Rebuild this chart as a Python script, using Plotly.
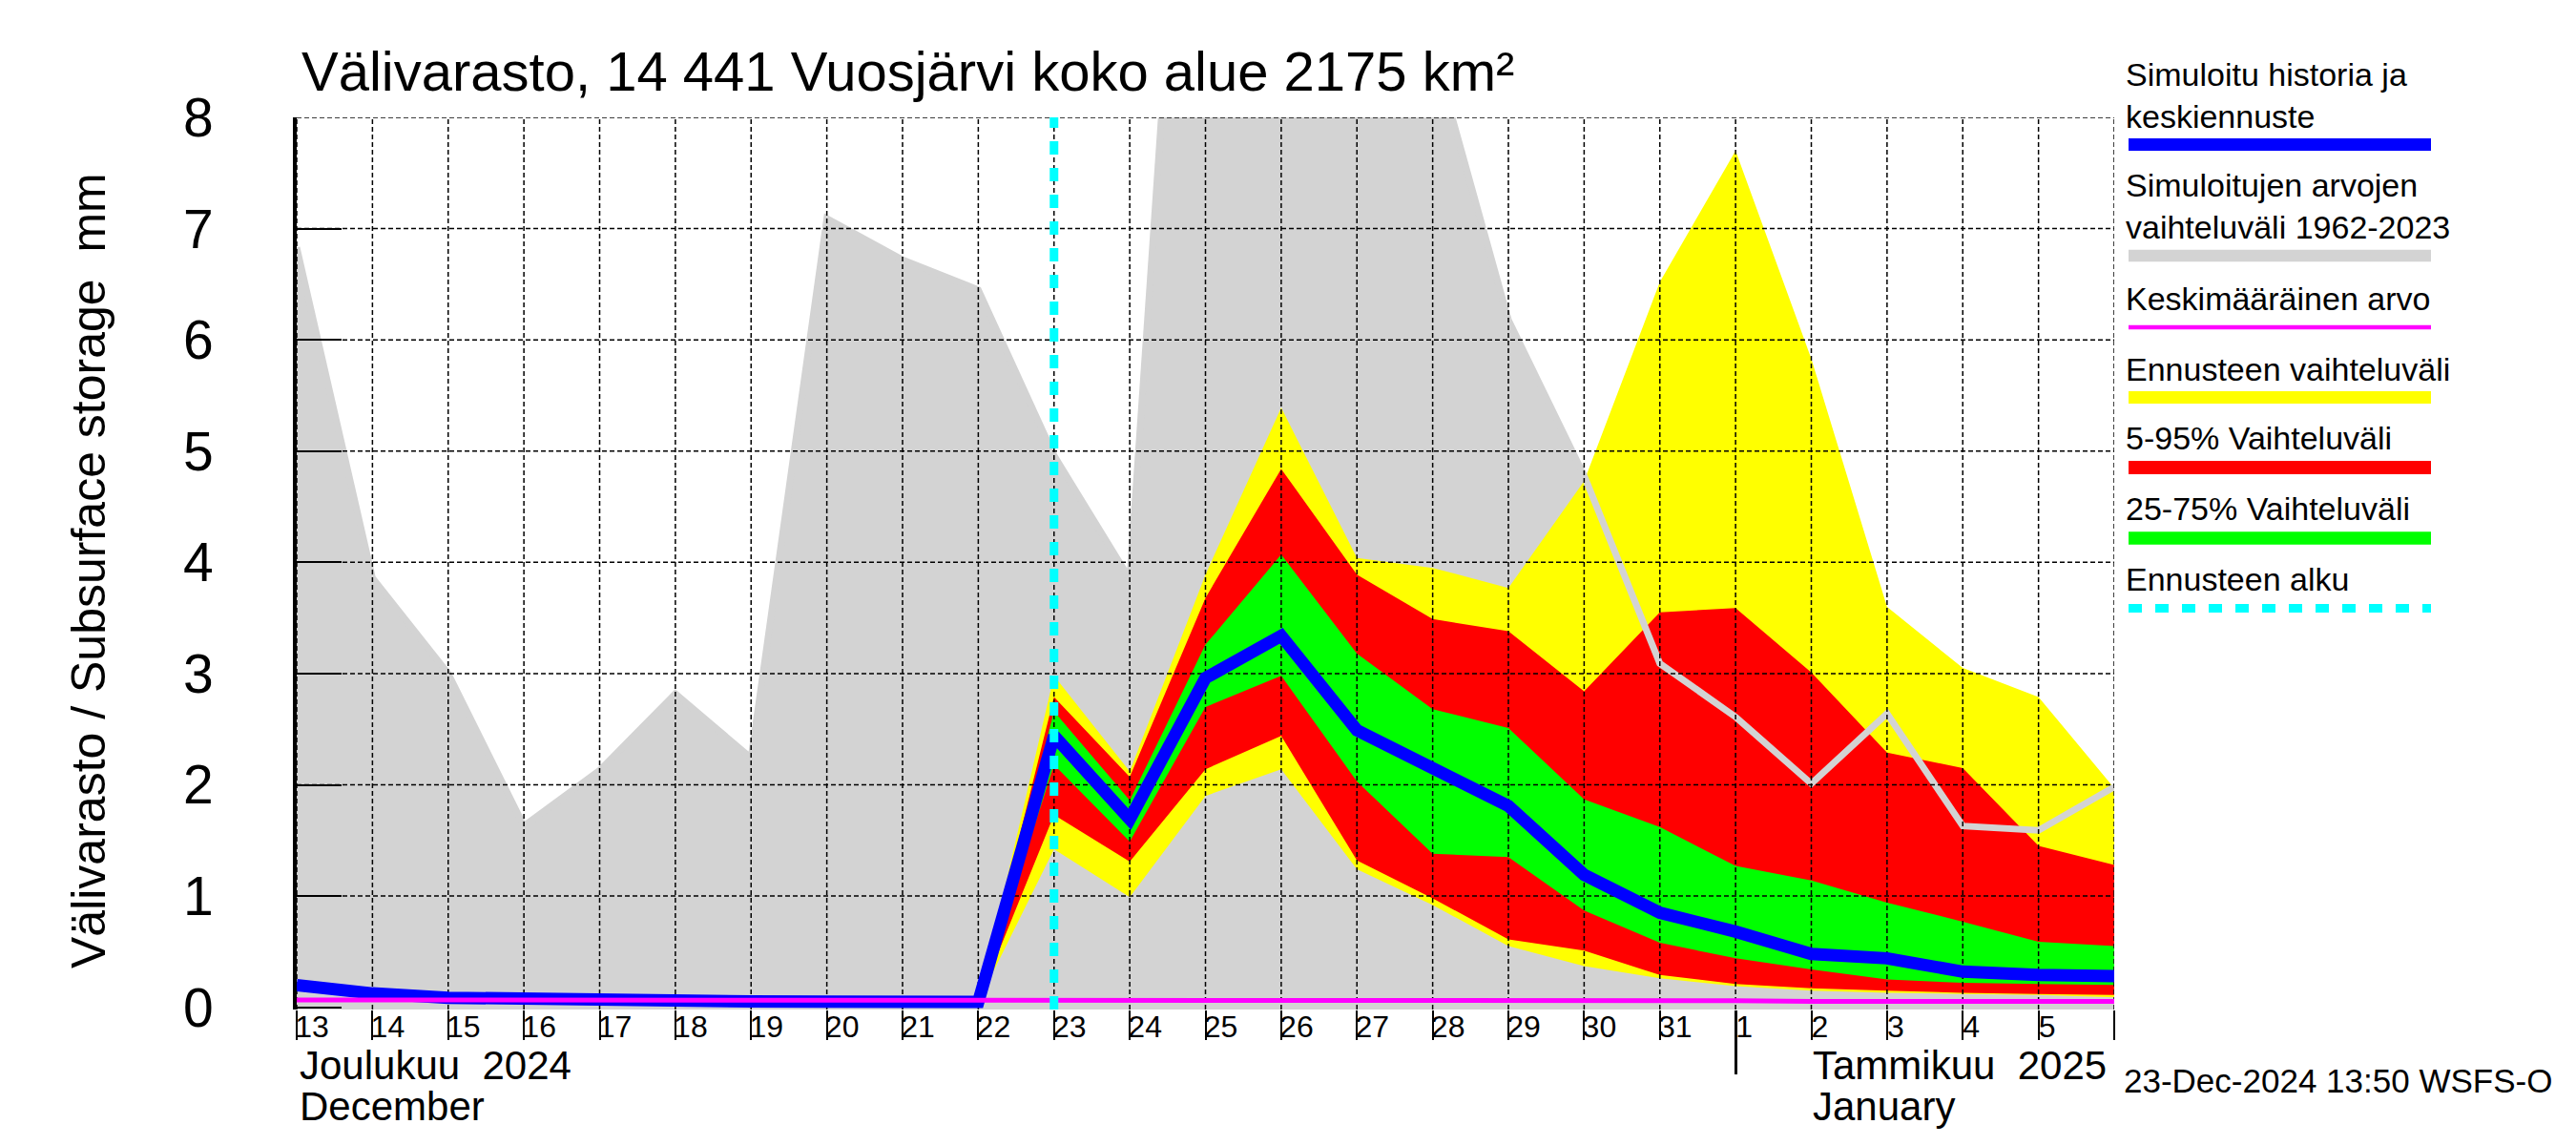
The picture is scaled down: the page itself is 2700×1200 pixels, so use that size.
import pandas as pd
import plotly.graph_objects as go

# ---------------- data ----------------
dates = [d.strftime("%Y-%m-%d") for d in pd.date_range("2024-12-13", "2025-01-06", freq="D")]
fc_dates = dates[9:]            # 2024-12-22 ... 2025-01-06
forecast_start = "2024-12-23"

day_labels_dec = [str(d) for d in range(13, 32)]
day_labels_jan = [str(d) for d in range(1, 6)]
y_ticks = [0, 1, 2, 3, 4, 5, 6, 7, 8]

# simulated range 1962-2023 (grey)
hist_max = [6.83, 3.86, 3.00, 1.63, 2.13, 2.82, 2.24, 7.09, 6.72, 6.45, 4.96, 3.85, 13.8,
            12.0, 10.5, 8.63, 6.18, 4.78, 3.09, 2.61, 2.01, 2.64, 1.63, 1.59, 1.98]
hist_min = [-0.02] * 25
# mean value (magenta)
mean_val = [0.066, 0.066, 0.065, 0.065, 0.065, 0.064, 0.064, 0.064, 0.063, 0.063, 0.063, 0.062,
            0.062, 0.062, 0.061, 0.061, 0.061, 0.060, 0.060, 0.060, 0.053, 0.053, 0.052, 0.052, 0.052]
# simulated history and median forecast (blue)
median = [0.20, 0.125, 0.086, 0.071, 0.064, 0.057, 0.053, 0.051, 0.050, 0.048, 2.44, 1.69, 2.96,
          3.34, 2.49, 2.14, 1.81, 1.19, 0.85, 0.68, 0.48, 0.44, 0.32, 0.29, 0.28]
# forecast ensemble (from 2024-12-22)
ens_max = [0.048, 2.98, 2.12, 3.89, 5.39, 4.04, 3.95, 3.77, 4.73, 6.52, 7.70, 5.83, 3.60, 3.05, 2.79, 1.97]
ens_min = [0.048, 1.42, 0.99, 1.90, 2.14, 1.24, 0.92, 0.55, 0.37, 0.26, 0.19, 0.15, 0.13, 0.12, 0.11, 0.09]
p95 = [0.048, 2.79, 2.07, 3.68, 4.84, 3.89, 3.49, 3.38, 2.84, 3.55, 3.59, 3.01, 2.29, 2.15, 1.45, 1.28]
p05 = [0.048, 1.73, 1.31, 2.14, 2.44, 1.32, 0.98, 0.61, 0.51, 0.29, 0.21, 0.17, 0.15, 0.13, 0.12, 0.11]
p75 = [0.048, 2.66, 1.86, 3.26, 4.07, 3.18, 2.68, 2.51, 1.87, 1.62, 1.27, 1.14, 0.94, 0.77, 0.59, 0.55]
p25 = [0.048, 2.18, 1.49, 2.70, 2.98, 2.03, 1.38, 1.35, 0.87, 0.58, 0.44, 0.34, 0.25, 0.22, 0.21, 0.20]

title_text = "Välivarasto, 14 441 Vuosjärvi koko alue 2175 km²"
ytitle_text = "Välivarasto / Subsurface storage \u00a0mm"
legend_items = [
    ("Simuloitu historia ja<br>keskiennuste", "#0000ff", 13, "solid"),
    ("Simuloitujen arvojen<br>vaihteluväli 1962-2023", "#d3d3d3", 12.5, "solid"),
    ("Keskimääräinen arvo", "#ff00ff", 4.5, "solid"),
    ("Ennusteen vaihteluväli", "#ffff00", 13, "solid"),
    ("5-95% Vaihteluväli", "#ff0000", 14, "solid"),
    ("25-75% Vaihteluväli", "#00ff00", 13.5, "solid"),
    ("Ennusteen alku", "#00ffff", 9, "14px,14px"),
]
legend_baselines = [127, 243, 318, 392, 464, 538, 611.6]
legend_bars = [143.5, 260, 335, 408.5, 482, 556, 629.5]
stamp_text = "23-Dec-2024 13:50 WSFS-O"

YMIN, YMAX = -0.02, 8
FONT = "Liberation Sans, Arial, Helvetica, sans-serif"

# layout geometry (px)
W, H = 2700, 1200
ML, MR, MT, MB = 303, 492, 115, 150
PW, PH = W - ML - MR, H - MT - MB


def py(px):  # pixel row -> paper y
    return (H - MB - px) / PH


def px_x(px):  # pixel column -> paper x
    return (px - ML) / PW


fig = go.Figure()


def band(xs, upper, lower, color):
    fig.add_trace(go.Scatter(x=list(xs) + list(xs)[::-1], y=list(upper) + list(lower)[::-1],
                             mode="none", fill="toself", fillcolor=color,
                             hoverinfo="skip", showlegend=False))


band(dates, hist_max, hist_min, "#d3d3d3")
band(fc_dates, ens_max, ens_min, "#ffff00")
band(fc_dates, p95, p05, "#ff0000")
band(fc_dates, p75, p25, "#00ff00")

fig.add_trace(go.Scatter(x=dates, y=hist_max, mode="lines", line=dict(color="#d3d3d3", width=7),
                         hoverinfo="skip", showlegend=False))

# grid lines (dashed, drawn above the bands)
gx, gy = [], []
for d in dates:
    gx += [d, d, None]
    gy += [YMIN, YMAX, None]
for v in y_ticks[1:]:
    gx += [dates[0], dates[-1], None]
    gy += [v, v, None]
fig.add_trace(go.Scatter(x=gx, y=gy, mode="lines", line=dict(color="black", width=1.5, dash="5px,3px"),
                         hoverinfo="skip", showlegend=False, cliponaxis=False))

fig.add_trace(go.Scatter(x=dates, y=median, mode="lines", line=dict(color="#0000ff", width=13),
                         hoverinfo="skip", showlegend=False))
fig.add_trace(go.Scatter(x=dates, y=mean_val, mode="lines", line=dict(color="#ff00ff", width=5),
                         hoverinfo="skip", showlegend=False))
fig.add_trace(go.Scatter(x=[forecast_start, forecast_start], y=[YMIN, YMAX], mode="lines",
                         line=dict(color="#00ffff", width=9, dash="14px,14px"),
                         hoverinfo="skip", showlegend=False))

# invisible anchors for overlay axes
for xa, ya in [("x2", "y"), ("x3", "y"), ("x4", "y"), ("x", "y2")]:
    fig.add_trace(go.Scatter(x=[dates[0]], y=[0], xaxis=xa, yaxis=ya, mode="markers",
                             marker=dict(opacity=0), hoverinfo="skip", showlegend=False))

common_x = dict(range=[dates[0], dates[-1]], showgrid=False, zeroline=False, showline=False,
                type="date", automargin=False, tickfont=dict(family=FONT, size=32, color="black"))

fig.update_layout(
    width=W, height=H,
    margin=dict(l=ML, r=MR, t=MT, b=MB, autoexpand=False),
    plot_bgcolor="white", paper_bgcolor="white",
    showlegend=False,
    xaxis=dict(**common_x, tickmode="array", tickvals=dates[:19], ticktext=day_labels_dec,
               ticks="", ticklabelshift=16, ticklabelstandoff=-4),
    xaxis2=dict(**common_x, overlaying="x", matches="x", anchor="y", side="bottom",
                tickmode="array", tickvals=dates, ticks="outside", ticklen=31, tickwidth=1.5,
                tickcolor="black", showticklabels=False),
    xaxis3=dict(**common_x, overlaying="x", matches="x", anchor="y", side="bottom",
                tickmode="array", tickvals=dates[19:24], ticktext=day_labels_jan,
                ticks="", ticklabelshift=9, ticklabelstandoff=-4),
    xaxis4=dict(**common_x, overlaying="x", matches="x", anchor="y", side="bottom",
                tickmode="array", tickvals=[dates[19]], ticks="outside", ticklen=67, tickwidth=3,
                tickcolor="black", showticklabels=False),
    yaxis=dict(range=[YMIN, YMAX], tickmode="array", tickvals=y_ticks, ticks="",
               showgrid=False, zeroline=False, showline=True, linewidth=4, linecolor="black",
               layer="below traces", ticklabelstandoff=72, automargin=False,
               tickfont=dict(family=FONT, size=57, color="black")),
    yaxis2=dict(range=[YMIN, YMAX], overlaying="y", matches="y", anchor="x", side="left",
                tickmode="array", tickvals=y_ticks, ticks="inside", ticklen=47, tickwidth=2,
                tickcolor="black", showticklabels=False, showgrid=False, zeroline=False,
                showline=False, layer="above traces", automargin=False),
    font=dict(family=FONT, color="black"),
)

ann = []
ann.append(dict(text=title_text, xref="paper", yref="paper", x=0, y=1, xanchor="left", yanchor="bottom",
                xshift=3, yshift=14, showarrow=False, font=dict(family=FONT, size=58)))
ann.append(dict(text=ytitle_text, xref="paper", yref="paper", x=0, y=py(590), xanchor="center",
                yanchor="middle", xshift=85 - ML, textangle=-90, showarrow=False,
                font=dict(family=FONT, size=50)))
ann.append(dict(text="Joulukuu\u00a0 2024", xref="x", yref="paper", x=dates[0], y=py(1134),
                xanchor="left", yanchor="bottom", xshift=1, showarrow=False, font=dict(family=FONT, size=42)))
ann.append(dict(text="December", xref="x", yref="paper", x=dates[0], y=py(1177),
                xanchor="left", yanchor="bottom", xshift=1, showarrow=False, font=dict(family=FONT, size=42)))
ann.append(dict(text="Tammikuu\u00a0 2025", xref="x", yref="paper", x=dates[20], y=py(1134),
                xanchor="left", yanchor="bottom", xshift=-1, showarrow=False, font=dict(family=FONT, size=42)))
ann.append(dict(text="January", xref="x", yref="paper", x=dates[20], y=py(1177),
                xanchor="left", yanchor="bottom", xshift=-1, showarrow=False, font=dict(family=FONT, size=42)))
ann.append(dict(text=stamp_text, xref="paper", yref="paper", x=px_x(2216), y=py(1146),
                xanchor="left", yanchor="bottom", showarrow=False, font=dict(family=FONT, size=35)))

shapes = []
for (txt, col, wd, dash), base, bar in zip(legend_items, legend_baselines, legend_bars):
    ann.append(dict(text=txt, xref="paper", yref="paper", x=px_x(2218), y=py(base + 8.2),
                    xanchor="left", yanchor="bottom", align="left", showarrow=False,
                    font=dict(family=FONT, size=34)))
    shapes.append(dict(type="line", xref="paper", yref="paper", x0=px_x(2223), x1=px_x(2540),
                       y0=py(bar), y1=py(bar), line=dict(color=col, width=wd, dash=dash)))

fig.update_layout(annotations=ann, shapes=shapes)
fig.write_html("out.html")
